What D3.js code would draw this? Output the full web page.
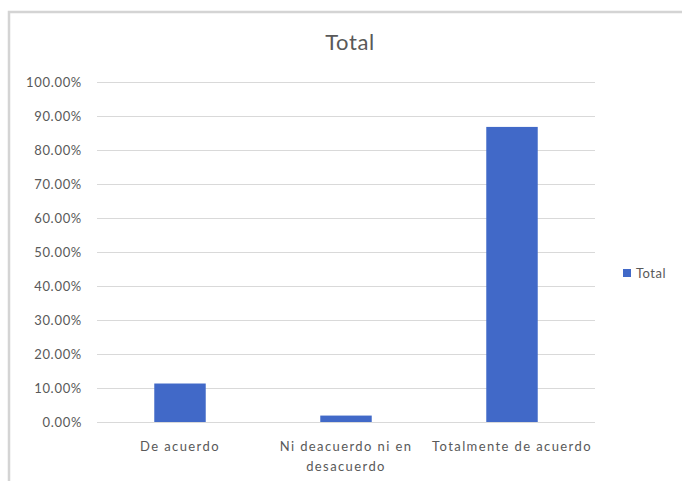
<!DOCTYPE html>
<html>
<head>
<meta charset="utf-8">
<script src="https://cdn.jsdelivr.net/npm/d3@7"></script>
<style>
  html, body { margin: 0; padding: 0; background: #fff; }
  svg { display: block; }
  text { font-family: Lato, "Open Sans", sans-serif; fill: #595959; }
</style>
</head>
<body>
<svg id="chart" width="682" height="481"></svg>
<script>
// Survey responses (share of respondents)
const categories = ["De acuerdo", "Ni deacuerdo ni en desacuerdo", "Totalmente de acuerdo"];
const categoryLines = [["De acuerdo"], ["Ni deacuerdo ni en", "desacuerdo"], ["Totalmente de acuerdo"]];
const values = [0.1132, 0.0189, 0.8679];
const yTicks = [0, 0.1, 0.2, 0.3, 0.4, 0.5, 0.6, 0.7, 0.8, 0.9, 1.0];
const seriesName = "Total";

const svg = d3.select("#chart");
const W = 682, H = 481;
const plot = { left: 97, right: 595, top: 82, bottom: 422 };

// outer chart frame
svg.append("path")
  .attr("d", `M9,${H} L9,12 L${W},12`)
  .attr("fill", "none")
  .attr("stroke", "#d4d4d4")
  .attr("stroke-width", 2.5);

const x = d3.scaleBand().domain(categories).range([plot.left, plot.right]).padding(0);
const y = d3.scaleLinear().domain([0, 1]).range([plot.bottom, plot.top]);

// gridlines
svg.append("g")
  .selectAll("line")
  .data(yTicks)
  .join("line")
  .attr("x1", plot.left).attr("x2", plot.right)
  .attr("y1", d => Math.round(y(d)) + 0.5).attr("y2", d => Math.round(y(d)) + 0.5)
  .attr("stroke", "#d9d9d9").attr("stroke-width", 1.2);

// y axis labels
const yAxis = d3.axisLeft(y).tickValues(yTicks).tickSize(0).tickPadding(0)
  .tickFormat(d => (d * 100).toFixed(2) + "%");
const gy = svg.append("g").attr("transform", `translate(82,0)`).call(yAxis);
gy.select(".domain").remove();
gy.selectAll("text")
  .attr("font-family", "Lato, 'Open Sans', sans-serif")
  .attr("font-size", 13)
  .attr("letter-spacing", 0.7)
  .attr("fill", "#595959")
  .attr("dy", "0.36em");

// bars
const barW = x.bandwidth() * 0.31;
svg.append("g")
  .selectAll("rect")
  .data(values)
  .join("rect")
  .attr("x", (d, i) => x(categories[i]) + (x.bandwidth() - barW) / 2)
  .attr("y", d => y(d))
  .attr("width", barW)
  .attr("height", d => y(0) - y(d))
  .attr("fill", "#4169c8");

// category labels
const gx = svg.append("g");
categories.forEach((c, i) => {
  const cx = x(c) + x.bandwidth() / 2;
  const t = gx.append("text")
    .attr("x", cx)
    .attr("y", 451)
    .attr("text-anchor", "middle")
    .attr("font-size", 13)
    .attr("letter-spacing", 1.4);
  categoryLines[i].forEach((line, j) => {
    t.append("tspan")
      .attr("x", cx)
      .attr("dy", j === 0 ? 0 : 20)
      .text(line);
  });
});

// title
svg.append("text")
  .attr("x", 350).attr("y", 50)
  .attr("text-anchor", "middle")
  .attr("font-size", 22)
  .attr("letter-spacing", 0.6)
  .text("Total");

// legend
svg.append("rect")
  .attr("x", 623).attr("y", 269).attr("width", 8).attr("height", 8)
  .attr("fill", "#4169c8");
svg.append("text")
  .attr("x", 636).attr("y", 278)
  .attr("font-size", 13)
  .attr("letter-spacing", 0.5)
  .text(seriesName);
</script>
</body>
</html>
